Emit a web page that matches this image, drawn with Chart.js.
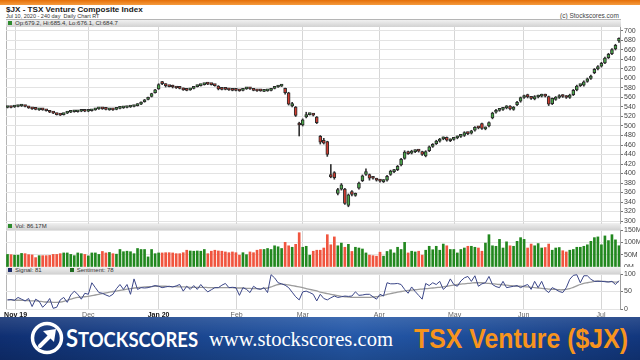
<!DOCTYPE html>
<html>
<head>
<meta charset="utf-8">
<script src="https://cdn.jsdelivr.net/npm/chart.js@4.4.0/dist/chart.umd.min.js"></script>
<style>
body { margin:0; width:640px; height:360px; overflow:hidden; background:#fff; position:relative; font-family:"Liberation Sans", Arial, sans-serif; }
.abs { position:absolute; white-space:nowrap; }
#topbar { left:0; top:0; width:640px; height:5px; background:linear-gradient(180deg,#e56f08,#f59b3e); }
#title { left:6px; top:5px; font-size:8.1px; font-weight:bold; color:#1a1a1a; }
#sub { left:6px; top:13px; font-size:5.5px; color:#333; }
#copy { left:560px; top:12px; font-size:6.5px; color:#444; }
#frame { left:6px; top:19px; width:615px; height:291px; border:1px solid #b5b5b5; box-sizing:border-box; }
.strip { left:6px; width:615px; height:7px; background:linear-gradient(180deg,#f0f0f0,#d2d2d2); font-size:6px; line-height:7px; color:#333; }
.sq { display:inline-block; width:4px; height:4px; margin:0 3px 0 2px; vertical-align:0; }
canvas { position:absolute; left:0; }
#banner { left:0; top:317px; width:640px; height:43px; overflow:hidden;
  background:linear-gradient(90deg,#0f2f72 0%,#1a4690 30%,#2458a8 55%,#1c4b97 75%,#12377e 100%); }
#banner .shine { left:0; top:0; width:640px; height:43px;
  background:linear-gradient(180deg,rgba(255,255,255,0.12),rgba(255,255,255,0) 45%,rgba(0,0,0,0.15)); }
.fit { transform-origin:0 0; }
#logoS { left:66px; top:5px; color:#fff; font-family:Lato, "DejaVu Sans", sans-serif; font-weight:bold; font-size:21px; }
#logoS .big { font-size:25px; }
#www { left:209px; top:9px; color:#fff; font-family:"Liberation Serif", "DejaVu Serif", serif; font-size:22px; }
#tsx { left:414px; top:6px; color:#f7941d; font-family:"Liberation Sans Narrow", "Liberation Sans", Arial, sans-serif; font-weight:bold; font-size:28px; }
</style>
</head>
<body>
<div id="topbar" class="abs"></div>
<div id="title" class="abs">$JX - TSX Venture Composite Index</div>
<div id="sub" class="abs">Jul 10, 2020 - 240 day&nbsp; Daily Chart RT</div>
<div id="copy" class="abs">(c) Stockscores.com</div>
<div id="frame" class="abs"></div>
<div class="abs strip" style="top:20px"><span class="sq" style="background:#2e8b2e"></span>Op:679.2, Hi:685.4, Lo:676.1, Cl:684.7</div>
<div class="abs strip" style="top:223px"><span class="sq" style="background:#2e8b2e"></span>Vol: 86.17M</div>
<div class="abs strip" style="top:267px"><span class="sq" style="background:#1c2a6a"></span>Signal: 81<span style="display:inline-block;width:26px"></span><span class="sq" style="background:#1f6b1f"></span>Sentiment: 78</div>

<canvas id="price" width="640" height="197" style="top:27px"></canvas>
<canvas id="vol" width="640" height="44" style="top:223px"></canvas>
<canvas id="sig" width="640" height="52" style="top:268px"></canvas>

<div id="banner" class="abs">
  <div class="abs shine"></div>
  <svg class="abs" style="left:28px;top:2px" width="40" height="40" viewBox="0 0 40 40">
    <circle cx="19" cy="19" r="14.5" fill="none" stroke="#fff" stroke-width="3.5"/>
    <path d="M12 27 L24 15" stroke="#fff" stroke-width="4" stroke-linecap="round"/>
    <path d="M15 12 L28 10 L26 23 Z" fill="#fff"/>
  </svg>
  <div id="logoS" class="abs fit" data-w="132"><span class="big">S</span>TOCKSCORES</div>
  <div id="www" class="abs fit" data-w="184">www.stockscores.com</div>
  <div id="tsx" class="abs fit" data-w="214">TSX Venture ($JX)</div>
</div>

<script>
// daily candles, Oct 30 2019 .. Jul 10 2020
var opens = [
  539, 540, 540, 541, 542, 542, 540, 537, 536, 534,
  535, 533, 531, 528, 526, 524, 524, 527, 529, 530,
  530, 531, 532, 531, 532, 534, 536, 537, 536, 534,
  535, 535, 537, 538, 539, 540, 541, 543, 546, 551,
  556, 562, 570, 578, 592, 588, 584, 585, 581, 580,
  579, 576, 576, 579, 583, 585, 587, 589, 588, 586,
  584, 578, 578, 577, 576, 576, 575, 575, 578, 580,
  577, 575, 575, 573, 574, 575, 579, 582, 584, 579,
  570, 542, 540, 504, 502, 519, 524, 525, 519, 478,
  470, 467, 398, 402, 358, 367, 367, 333, 362, 354,
  369, 385, 398, 398, 392, 389, 386, 383, 386, 398,
  404, 408, 418, 432, 446, 443, 446, 448, 446, 437,
  448, 457, 463, 468, 473, 476, 469, 472, 475, 478,
  480, 486, 485, 491, 497, 505, 494, 500, 517, 529,
  533, 535, 538, 542, 535, 545, 552, 560, 566, 561,
  557, 561, 563, 566, 562, 547, 556, 560, 565, 563,
  560, 566, 576, 585, 586, 594, 600, 612, 620, 626,
  633, 644, 652, 662, 679.2
];
var highs = [
  541, 541, 542, 543, 544, 543, 541, 538, 537, 536,
  536, 534, 532, 529, 527, 525, 527, 529, 531, 532,
  532, 533, 533, 533, 534, 536, 538, 538, 537, 536,
  536, 537, 539, 540, 541, 542, 543, 547, 551, 556,
  561, 569, 577, 589, 594, 589, 585, 586, 582, 581,
  580, 577, 579, 583, 586, 588, 589, 590, 589, 587,
  585, 579, 579, 578, 577, 577, 576, 578, 581, 581,
  578, 576, 576, 575, 576, 579, 583, 585, 587, 580,
  571, 550, 541, 508, 515, 529, 527, 526, 520, 480,
  474, 468, 419, 404, 369, 379, 369, 357, 364, 359,
  382, 397, 410, 399, 393, 390, 387, 387, 396, 407,
  409, 417, 432, 448, 447, 449, 450, 449, 447, 448,
  458, 463, 470, 474, 477, 477, 473, 476, 479, 482,
  488, 487, 491, 499, 498, 506, 498, 509, 529, 535,
  537, 539, 543, 543, 541, 552, 561, 565, 567, 562,
  564, 565, 567, 567, 563, 559, 562, 566, 566, 564,
  567, 577, 586, 588, 595, 601, 607, 621, 627, 634,
  645, 653, 663, 672, 685.4
];
var lows = [
  538, 538, 539, 540, 541, 540, 537, 535, 534, 533,
  533, 531, 528, 526, 523, 522, 523, 526, 528, 529,
  529, 530, 530, 530, 531, 533, 535, 535, 534, 533,
  533, 534, 536, 537, 538, 539, 540, 542, 545, 550,
  555, 561, 569, 577, 587, 582, 582, 580, 579, 578,
  575, 574, 575, 578, 582, 584, 586, 587, 586, 584,
  576, 576, 576, 575, 574, 574, 573, 574, 577, 577,
  574, 573, 573, 572, 573, 574, 578, 581, 583, 567,
  544, 540, 520, 479, 500, 517, 523, 521, 505, 462,
  462, 436, 391, 388, 355, 365, 335, 330, 353, 352,
  367, 383, 396, 386, 388, 384, 382, 381, 384, 396,
  402, 406, 416, 430, 440, 441, 444, 445, 438, 435,
  446, 455, 461, 466, 471, 468, 467, 470, 473, 476,
  478, 482, 483, 489, 494, 493, 492, 498, 515, 527,
  531, 533, 536, 534, 533, 543, 550, 558, 559, 556,
  555, 559, 561, 561, 543, 545, 554, 558, 560, 558,
  558, 564, 574, 583, 584, 592, 598, 610, 618, 624,
  631, 642, 650, 660, 676.1
];
var closes = [
  540, 539, 541, 542, 543, 541, 538, 536, 535, 535,
  534, 532, 529, 527, 524, 523, 526, 528, 530, 531,
  531, 532, 531, 532, 533, 535, 537, 536, 535, 535,
  534, 536, 538, 539, 540, 541, 542, 546, 550, 555,
  560, 568, 576, 587, 589, 585, 583, 582, 580, 579,
  576, 575, 578, 582, 585, 587, 588, 588, 587, 585,
  578, 577, 577, 576, 575, 575, 574, 577, 580, 578,
  575, 574, 574, 574, 575, 578, 582, 584, 585, 570,
  546, 547, 522, 502, 513, 524, 525, 523, 507, 466,
  464, 440, 393, 391, 366, 376, 337, 355, 356, 357,
  380, 395, 404, 390, 390, 386, 384, 385, 394, 405,
  407, 415, 430, 445, 442, 447, 448, 447, 440, 446,
  456, 461, 468, 472, 475, 470, 471, 474, 477, 480,
  486, 484, 490, 497, 496, 495, 496, 507, 527, 533,
  535, 537, 541, 536, 540, 550, 560, 563, 561, 558,
  562, 563, 565, 563, 546, 558, 561, 564, 562, 560,
  565, 575, 584, 587, 593, 599, 605, 619, 625, 632,
  643, 651, 661, 670, 684.7
];
// volume in millions
var volumes = [
  51, 50, 48, 48, 55, 54, 50, 49, 38, 46,
  46, 46, 47, 51, 51, 54, 57, 57, 51, 46,
  57, 54, 51, 45, 57, 57, 51, 63, 57, 59,
  54, 52, 71, 62, 64, 62, 54, 75, 71, 71,
  41, 71, 54, 57, 57, 58, 58, 57, 54, 54,
  58, 68, 65, 64, 65, 64, 71, 54, 64, 68,
  65, 64, 61, 58, 61, 58, 48, 58, 50, 61,
  58, 68, 71, 71, 75, 71, 86, 82, 75, 100,
  86, 80, 92, 139, 80, 84, 48, 64, 68, 68,
  77, 131, 90, 122, 86, 97, 80, 92, 63, 80,
  77, 73, 57, 48, 46, 44, 60, 44, 63, 70,
  57, 80, 71, 100, 57, 64, 61, 64, 48, 68,
  84, 70, 84, 68, 93, 86, 71, 71, 57, 71,
  77, 84, 84, 80, 77, 64, 97, 131, 86, 84,
  112, 77, 102, 86, 84, 104, 119, 112, 77, 93,
  86, 95, 77, 79, 93, 68, 77, 79, 66, 61,
  68, 71, 80, 80, 84, 90, 104, 119, 122, 90,
  126, 107, 131, 110, 86.17
];
var signal = [
  26, 27, 25, 33, 28, 23, 30, 7, 28, 22,
  5, 15, 30, 2, 5, 26, 33, 19, 40, 51,
  42, 28, 45, 42, 75, 61, 47, 45, 40, 36,
  42, 58, 70, 56, 70, 42, 86, 56, 61, 60,
  61, 64, 67, 65, 61, 63, 65, 63, 66, 70,
  51, 65, 56, 67, 56, 70, 58, 49, 55, 61,
  61, 68, 73, 61, 62, 61, 39, 61, 56, 47,
  65, 58, 56, 61, 47, 98, 89, 75, 72, 68,
  61, 48, 35, 26, 49, 51, 47, 42, 23, 42,
  30, 26, 32, 37, 33, 35, 37, 36, 37, 49,
  39, 40, 42, 42, 35, 28, 42, 37, 75, 72,
  72, 73, 70, 56, 45, 63, 50, 39, 28, 73,
  67, 75, 70, 79, 56, 65, 86, 70, 65, 80,
  89, 93, 79, 95, 65, 72, 75, 93, 70, 64,
  61, 79, 61, 63, 65, 67, 61, 66, 70, 56,
  79, 61, 79, 55, 47, 61, 56, 50, 47, 61,
  85, 96, 98, 75, 95, 95, 85, 79, 79, 79,
  78, 77, 79, 70, 81
];
var sentiment = [
  26, 26, 25, 25, 25, 24, 24, 23, 23, 22,
  21, 20, 20, 19, 19, 20, 22, 25, 28, 31,
  33, 34, 35, 36, 38, 40, 42, 44, 46, 48,
  50, 51, 53, 55, 57, 58, 60, 61, 62, 63,
  64, 64, 65, 65, 65, 65, 64, 64, 64, 63,
  63, 63, 62, 62, 62, 62, 62, 61, 61, 61,
  61, 61, 61, 61, 61, 60, 60, 60, 59, 59,
  58, 58, 58, 59, 60, 63, 67, 70, 71, 70,
  69, 67, 65, 63, 61, 58, 56, 54, 52, 48,
  46, 44, 42, 40, 38, 36, 35, 34, 33, 33,
  33, 33, 33, 33, 34, 35, 37, 39, 42, 44,
  46, 48, 50, 52, 53, 54, 55, 56, 57, 58,
  59, 60, 61, 62, 63, 65, 67, 68, 70, 71,
  72, 73, 74, 75, 75, 75, 74, 73, 72, 71,
  70, 69, 68, 67, 66, 65, 65, 64, 63, 62,
  61, 60, 59, 58, 57, 56, 56, 55, 55, 56,
  58, 62, 66, 70, 73, 75, 77, 79, 80, 79,
  79, 78, 78, 77, 78
];
// month grid positions (bar index) and labels
var monthTicks = [2.3, 23, 43, 65.2, 84, 105.8, 127.2, 146.9, 168.9];
var monthLabels = ["Nov 19", "Dec", "Jan 20", "Feb", "Mar", "Apr", "May", "Jun", "Jul"];
var priceTicks = [300, 320, 340, 360, 380, 400, 420, 440, 460, 480, 500, 520, 540, 560, 580, 600, 620, 640, 660, 680, 700];
var volTicks = [0, 50, 100, 150];
var sigTicks = [0, 50, 100];

var UP = '#4aa84a', DOWN = '#cf3b2f';
var VUP = '#22881f', VDOWN = '#f0553f';
var FONT = 'Liberation Sans';

function xScale(showLabels) {
    return {
        type: 'linear',
        min: -0.43,
        max: 174.29,
        offset: false,
        afterBuildTicks: function (s) { s.ticks = monthTicks.map(v => ({ value: v })); },
        grid: { color: '#d6d6d6', drawTicks: false, offset: false },
        border: { display: false },
        ticks: {
            display: showLabels,
            padding: 2,
            autoSkip: false,
            maxRotation: 0,
            font: c => ({ family: FONT, size: 7, weight: (c.index === 0 || c.index === 2) ? 'bold' : 'normal' }),
            color: c => (c.index === 0 || c.index === 2) ? '#111' : '#666',
            callback: function (v, i) { return monthLabels[i]; }
        },
        afterFit: function (s) { s.height = showLabels ? 11 : 0; s.paddingLeft = 0; s.paddingRight = 0; }
    };
}

function yScale(min, max, ticks, fmt) {
    return {
        position: 'right',
        min: min,
        max: max,
        afterBuildTicks: function (s) { s.ticks = ticks.map(v => ({ value: v })); },
        grid: { color: '#e3e3e3', tickColor: '#777', tickLength: 3 },
        border: { color: '#a0a0a0' },
        ticks: { font: { family: FONT, size: 7 }, color: '#444', padding: 1, autoSkip: false, callback: fmt },
        afterFit: function (s) { s.width = 20; s.paddingTop = 0; s.paddingBottom = 0; }
    };
}

var baseOpts = {
    responsive: false,
    animation: false,
    devicePixelRatio: 1,
    plugins: { legend: { display: false }, tooltip: { enabled: false } }
};

var idx = closes.map((c, i) => i);
var candleColor = idx.map(i => closes[i] >= opens[i] ? UP : DOWN);
var volColor = idx.map(i => closes[i] >= opens[i] ? VUP : VDOWN);

new Chart('price', {
    type: 'bar',
    data: {
        datasets: [{
            data: idx.map(i => ({ x: i, y: [opens[i], closes[i]] })),
            backgroundColor: candleColor,
            borderColor: '#2b2b2b',
            borderWidth: 1,
            borderSkipped: false,
            barThickness: 3,
            minBarLength: 2,
            grouped: false
        }, {
            data: idx.map(i => ({ x: i, y: [lows[i], highs[i]] })),
            backgroundColor: '#333',
            borderWidth: 0,
            barThickness: 1,
            grouped: false
        }]
    },
    options: Object.assign({}, baseOpts, {
        layout: { padding: { left: 6, right: 0, top: 0, bottom: 0 } },
        scales: {
            x: xScale(false),
            y: yScale(293.75, 708.33, priceTicks, v => v)
        }
    })
});

new Chart('vol', {
    type: 'bar',
    data: {
        datasets: [{
            data: idx.map(i => ({ x: i, y: volumes[i] })),
            backgroundColor: volColor,
            barThickness: 2,
            grouped: false
        }]
    },
    options: Object.assign({}, baseOpts, {
        layout: { padding: { left: 6, right: 0, top: 7, bottom: 0 } },
        scales: {
            x: xScale(false),
            y: yScale(0, 150, volTicks, v => v + 'M')
        }
    })
});

new Chart('sig', {
    type: 'line',
    data: {
        datasets: [{
            data: idx.map(i => ({ x: i, y: signal[i] })),
            borderColor: '#3b4688',
            borderWidth: 1,
            pointRadius: 0,
            tension: 0
        }, {
            data: idx.map(i => ({ x: i, y: sentiment[i] })),
            borderColor: '#9c9c9c',
            borderWidth: 1.3,
            pointRadius: 0,
            tension: 0.3
        }]
    },
    options: Object.assign({}, baseOpts, {
        layout: { padding: { left: 6, right: 0, top: 6, bottom: 0 } },
        scales: {
            x: xScale(true),
            y: yScale(0, 100, sigTicks, v => v)
        }
    })
});

// squeeze banner texts to the widths seen in the picture
document.querySelectorAll('.fit').forEach(function (el) {
    var w = el.getBoundingClientRect().width;
    var target = +el.dataset.w;
    el.style.transform = 'scaleX(' + (target / w) + ')';
});
</script>
</body>
</html>
